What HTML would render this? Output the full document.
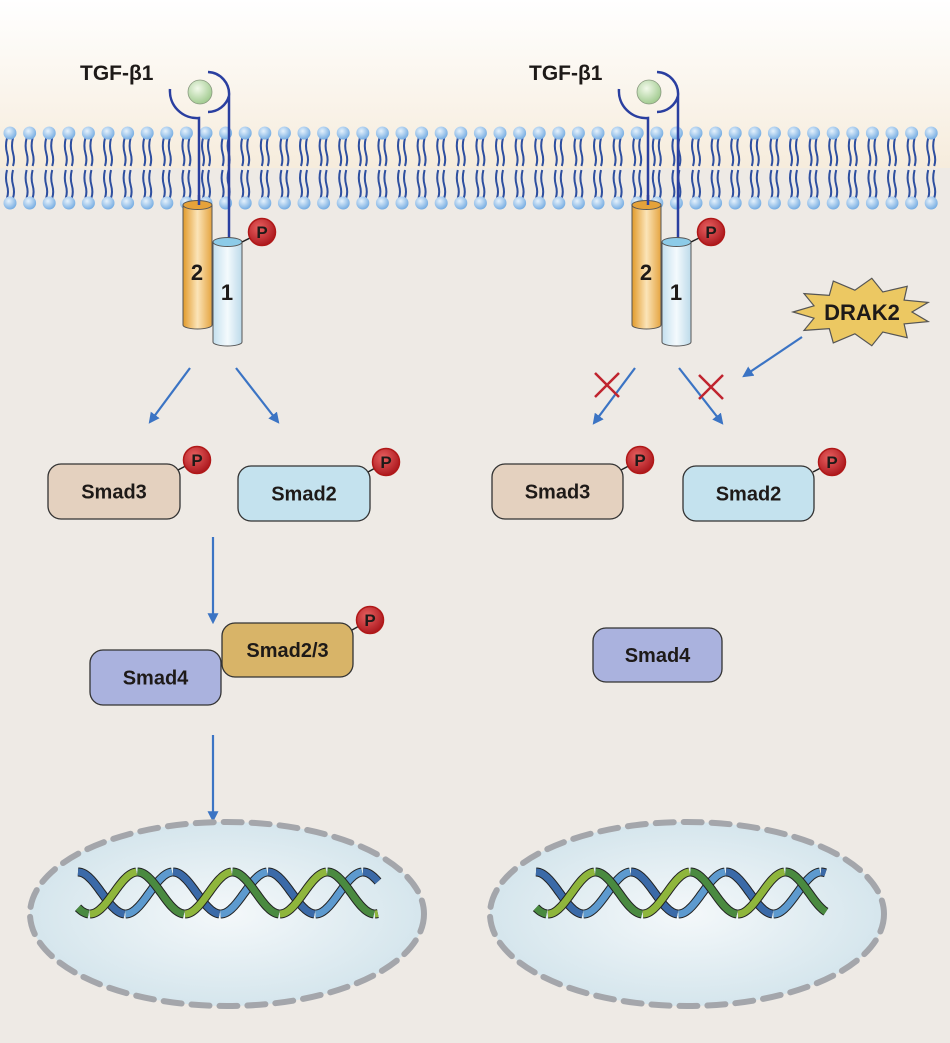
<!DOCTYPE html>
<html><head><meta charset="utf-8"><style>
html,body{margin:0;padding:0;width:950px;height:1043px;overflow:hidden;background:#eeeae5}
svg{display:block}
text{font-family:"Liberation Sans",sans-serif;font-weight:bold;fill:#1e1a18}
</style></head><body>
<svg id="s" width="950" height="1043" viewBox="0 0 950 1043" xmlns="http://www.w3.org/2000/svg">
<defs>
<linearGradient id="bg" x1="0" y1="0" x2="0" y2="1">
<stop offset="0" stop-color="#ffffff"/><stop offset="1" stop-color="#f6ecdc"/></linearGradient>
<radialGradient id="head" cx="0.4" cy="0.35" r="0.7"><stop offset="0" stop-color="#e6f2fc"/><stop offset="1" stop-color="#6fa8e0"/></radialGradient>
<radialGradient id="lig" cx="0.4" cy="0.35" r="0.7"><stop offset="0" stop-color="#f2f9ea"/><stop offset="1" stop-color="#9cc88a"/></radialGradient>
<radialGradient id="pp" cx="0.4" cy="0.35" r="0.7"><stop offset="0" stop-color="#e86060"/><stop offset="1" stop-color="#a8141a"/></radialGradient>
<radialGradient id="nuc" cx="0.5" cy="0.5" r="0.6"><stop offset="0" stop-color="#f4f8fa"/><stop offset="1" stop-color="#cfe2ea"/></radialGradient>
<linearGradient id="org" x1="0" x2="1"><stop offset="0" stop-color="#e29a2a"/><stop offset="0.5" stop-color="#fbe4b8"/><stop offset="1" stop-color="#e5a440"/></linearGradient>
<linearGradient id="blu" x1="0" x2="1"><stop offset="0" stop-color="#c4e0ee"/><stop offset="0.5" stop-color="#f4fafd"/><stop offset="1" stop-color="#bcdaea"/></linearGradient>
<marker id="ah" viewBox="0 0 10 10" refX="8" refY="5" markerWidth="5" markerHeight="5" orient="auto"><path d="M0,0L10,5L0,10z" fill="#3b74c4"/></marker>
</defs>
<rect x="0" y="0" width="950" height="168" fill="url(#bg)"/>
<g id="mem"></g>
<g id="main"></g>
</svg>
<script>
let h='';
for(let x=10;x<945;x+=19.6){
 for(const dx of [-3,3]){
  const X=x+dx;
  h+=`<path d="M${X},138 q-2,8 0,15 q2,7 0,13 M${X},170 q-2,8 0,15 q2,7 0,13" stroke="#2e4fa0" stroke-width="2" fill="none"/>`;
 }
 h+=`<circle cx="${x}" cy="133" r="6.5" fill="url(#head)"/><circle cx="${x}" cy="203" r="6.5" fill="url(#head)"/>`;
}
document.getElementById('mem').innerHTML=h;
h='';
function P(x,y,lx,ly){return `<line x1="${lx}" y1="${ly}" x2="${x}" y2="${y}" stroke="#222" stroke-width="1.5"/><circle cx="${x}" cy="${y}" r="13.5" fill="url(#pp)" stroke="#b01818" stroke-width="1.5"/><text x="${x}" y="${y+6}" font-size="17" text-anchor="middle">P</text>`}
function box(x,y,w,hh,fill,t){return `<rect x="${x}" y="${y}" width="${w}" height="${hh}" rx="13" fill="${fill}" stroke="#333" stroke-width="1.3"/><text x="${x+w/2}" y="${y+hh/2+7}" font-size="20" text-anchor="middle">${t}</text>`}
function receptor(o){
 let lx=200+o;
 h+=`<text x="${80+o}" y="80" font-size="21">TGF-β1</text>`;
 h+=`<circle cx="${lx}" cy="92" r="12" fill="url(#lig)" stroke="#8a9a80" stroke-width="0.8"/>`;
 h+=`<path d="M${lx-30},89 A27,27 0 0 0 ${lx-1},118 L${lx-1},225" stroke="#2a3fa0" stroke-width="2.5" fill="none"/>`;
 h+=`<path d="M${lx+8},72 A22,22 0 0 1 ${lx+29},96 L${lx+29},243 M${lx+29},96 A22,22 0 0 1 ${lx+8},112" stroke="#2a3fa0" stroke-width="2.5" fill="none"/>`;
 let ox=183+o;
 h+=`<path d="M${ox},205 L${ox},325 A14.5,4 0 0 0 ${ox+29},325 L${ox+29},205" fill="url(#org)" stroke="#555" stroke-width="1"/><ellipse cx="${ox+14.5}" cy="205" rx="14.5" ry="4.5" fill="#e5a23a" stroke="#555" stroke-width="1"/>`;
 h+=`<line x1="${lx-1}" y1="195" x2="${lx-1}" y2="205" stroke="#2a3fa0" stroke-width="2.5"/>`;
 let bx=213+o;
 h+=`<path d="M${bx},242 L${bx},342 A14.5,4 0 0 0 ${bx+29},342 L${bx+29},242" fill="url(#blu)" stroke="#555" stroke-width="1"/><ellipse cx="${bx+14.5}" cy="242" rx="14.5" ry="4.5" fill="#8ccbe8" stroke="#555" stroke-width="1"/>`;
 h+=`<text x="${ox+14}" y="280" font-size="22" text-anchor="middle">2</text><text x="${bx+14}" y="300" font-size="22" text-anchor="middle">1</text>`;
 h+=P(262+o,232,bx+29,242);
}
receptor(0);receptor(449);
function ar(x1,y1,x2,y2){h+=`<line x1="${x1}" y1="${y1}" x2="${x2}" y2="${y2}" stroke="#3b74c4" stroke-width="2.2" marker-end="url(#ah)"/>`}
ar(190,368,150,422);ar(236,368,278,422);
ar(635,368,594,423);ar(679,368,722,423);ar(802,337,744,376);
ar(213,537,213,622);ar(213,735,213,820);
function X(cx,cy){h+=`<path d="M${cx-12},${cy-12}L${cx+12},${cy+12}M${cx+12},${cy-12}L${cx-12},${cy+12}" stroke="#c0242e" stroke-width="2.5"/>`}
X(607,385);X(711,387);
let pts=[];const N=11;
for(let i=0;i<2*N;i++){let a=Math.PI*i/N+Math.PI;let rx=i%2?50:69,ry=i%2?22:34;pts.push((862+rx*Math.cos(a)).toFixed(1)+','+(312+ry*Math.sin(a)).toFixed(1))}
h+=`<polygon points="${pts.join(' ')}" fill="#ecc862" stroke="#555" stroke-width="1.2"/><text x="862" y="320" font-size="22" text-anchor="middle">DRAK2</text>`;
h+=P(197,460,178,470)+box(48,464,132,55,'#e4d1bf','Smad3');
h+=P(386,462,368,472)+box(238,466,132,55,'#c4e2ee','Smad2');
h+=P(640,460,621,470)+box(492,464,131,55,'#e4d1bf','Smad3');
h+=P(832,462,813,472)+box(683,466,131,55,'#c4e2ee','Smad2');
h+=box(90,650,131,55,'#aab2de','Smad4');
h+=P(370,620,352,630)+box(222,623,131,54,'#d8b468','Smad2/3');
h+=box(593,628,129,54,'#aab2de','Smad4');
for(const cx of [227,687]){
 h+=`<ellipse cx="${cx}" cy="914" rx="197" ry="92" fill="url(#nuc)" stroke="#a4a6ab" stroke-width="6" stroke-dasharray="18,10" stroke-linecap="round"/>`;
}
// DNA: two ribbons, each segment (half period) alternating colour
function dna(x0,x1,yc){
 const A=21,per=95;
 const strands=[[0,['#3b6aa8','#5d9acf']],[Math.PI*0.75,['#4a8a40','#8fb63c']]];
 for(const [ph,cs] of strands){
  // segments between troughs/peaks
  const k0=Math.floor(((x0-x0)*2/per));
  for(let s=-1;s<10;s++){
   let xa=x0+(s*per/2)-ph*per/(2*Math.PI), xb=xa+per/2;
   let a=Math.max(xa,x0), b=Math.min(xb,x1);
   if(b<=a) continue;
   let d='',d2='';
   for(let x=a;x<=b+0.01;x+=1.5){let y=yc-A*Math.cos(2*Math.PI*(x-x0)/per+ph);d+=(d?'L':'M')+x.toFixed(1)+','+y.toFixed(1)}
   h+=`<path d="${d}" stroke="#222" stroke-width="9" fill="none"/><path d="${d}" stroke="${cs[(s+10)%2]}" stroke-width="7" fill="none"/>`;
  }
 }
}
dna(78,378,893);dna(536,826,893);
document.getElementById('main').innerHTML=h;
</script>
</body></html>
